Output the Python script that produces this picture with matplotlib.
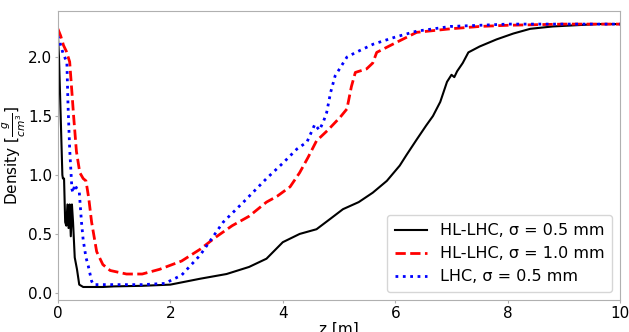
import numpy as np
import matplotlib.pyplot as plt

# HL-LHC, sigma = 0.5 mm
z_hl05 = [0.0, 0.02, 0.05, 0.08, 0.09, 0.11, 0.13, 0.15, 0.17, 0.19, 0.21, 0.23, 0.25, 0.27,
          0.3, 0.34, 0.38, 0.45, 0.6, 0.8, 1.0, 1.5, 2.0, 2.53, 3.0, 3.4, 3.71, 4.0, 4.3,
          4.6, 4.85, 5.07, 5.35, 5.6, 5.85, 6.08, 6.2, 6.38, 6.55, 6.67, 6.8, 6.92, 7.0,
          7.05, 7.1, 7.2, 7.3, 7.5, 7.8, 8.1, 8.4, 8.8, 9.2, 9.6, 10.0]
d_hl05 = [2.2, 2.0, 1.5, 1.0, 0.97, 0.97, 0.6, 0.57, 0.75, 0.55, 0.75, 0.48, 0.75, 0.6,
          0.3, 0.2, 0.07, 0.05, 0.05, 0.05, 0.055, 0.06, 0.07, 0.12, 0.16, 0.22, 0.29, 0.43, 0.5,
          0.54, 0.63, 0.71, 0.77, 0.85, 0.95, 1.08, 1.17, 1.3, 1.42, 1.5, 1.62, 1.79, 1.85,
          1.83, 1.88, 1.95, 2.04, 2.09, 2.15, 2.2, 2.24, 2.26, 2.27, 2.28, 2.28]

# HL-LHC, sigma = 1.0 mm
z_hl10 = [0.0, 0.05, 0.1, 0.15, 0.21, 0.25, 0.28, 0.33, 0.39, 0.45, 0.5, 0.55, 0.6, 0.69,
          0.8, 0.93, 1.22, 1.5, 1.81, 2.2, 2.53, 2.8, 3.1, 3.4, 3.71, 3.9, 4.13, 4.3, 4.45,
          4.6, 4.8, 5.02, 5.14, 5.22, 5.29, 5.49, 5.6, 5.67, 6.0, 6.38, 6.98, 7.5, 8.0,
          9.0, 10.0]
d_hl10 = [2.24, 2.18, 2.1, 2.05, 1.96, 1.7, 1.5, 1.2, 1.02, 0.97, 0.95, 0.8, 0.6, 0.35,
          0.24, 0.19, 0.16, 0.16, 0.2, 0.27, 0.37, 0.47, 0.57, 0.65, 0.77, 0.82, 0.9, 1.02, 1.15,
          1.29, 1.38, 1.49, 1.56, 1.75, 1.87, 1.9, 1.95, 2.04, 2.12, 2.21, 2.24, 2.26, 2.27,
          2.28, 2.28]

# LHC, sigma = 0.5 mm
z_lhc = [0.0, 0.05, 0.1, 0.16, 0.18, 0.21, 0.25, 0.27, 0.3, 0.33, 0.38, 0.42, 0.45, 0.5,
         0.54, 0.6, 0.63, 0.8, 1.2, 1.5, 1.9, 2.2, 2.53, 2.94, 3.3, 3.71, 4.0, 4.25, 4.43,
         4.57, 4.65, 4.72, 4.78, 4.85, 4.93, 5.14, 5.3, 5.61, 6.0, 6.38, 6.98, 7.5, 8.0,
         9.0, 10.0]
d_lhc = [2.18, 2.1, 2.02, 1.96, 1.6, 1.22, 0.88, 0.85, 0.92, 0.89, 0.86, 0.6, 0.45, 0.3,
         0.23, 0.1, 0.07, 0.07, 0.07, 0.07, 0.08, 0.15, 0.32, 0.6, 0.77, 0.97, 1.1, 1.22, 1.28,
         1.43, 1.38, 1.45, 1.53, 1.7, 1.84, 2.0, 2.04, 2.11, 2.17, 2.22, 2.26, 2.27, 2.28,
         2.28, 2.28]

plt.rcParams['font.size'] = 11

fig, ax = plt.subplots(figsize=(6.29, 3.32), dpi=100)
fig.subplots_adjust(left=0.092, right=0.986, bottom=0.096, top=0.967)

ax.plot(z_hl05, d_hl05, color='black', linestyle='-', lw=1.5, label='HL-LHC, σ = 0.5 mm')
ax.plot(z_hl10, d_hl10, color='red', linestyle='--', lw=2, label='HL-LHC, σ = 1.0 mm')
ax.plot(z_lhc, d_lhc, color='blue', linestyle=':', lw=2, label='LHC, σ = 0.5 mm')

ax.set_xlim(0, 10)
ax.set_xlabel('z [m]', labelpad=1)
ax.set_ylabel(r'Density [$\frac{g}{cm^3}$]')
ax.yaxis.set_label_coords(-0.054, 0.5)

for s in ax.spines.values():
    s.set_color('#b0b0b0')
ax.tick_params(color='#b0b0b0', length=2.5, pad=1.5)

ax.legend(loc='lower right', fontsize=11.5, borderpad=0.5)

fig.savefig('out.png')
